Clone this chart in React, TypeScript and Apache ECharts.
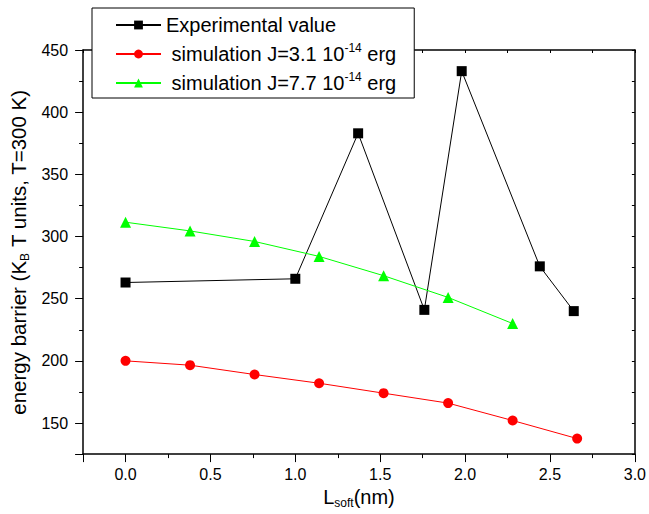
import React, { useEffect, useRef } from "react";
import * as echarts from "echarts";

const expX = [0, 1.0, 1.37, 1.76, 1.98, 2.44, 2.64];
const expY = [263, 266, 383, 241, 433, 276, 240];
const sim31X = [0, 0.38, 0.76, 1.14, 1.52, 1.9, 2.28, 2.66];
const sim31Y = [200, 196.5, 189, 182, 174, 166, 152, 137.5];
const sim77X = [0, 0.38, 0.76, 1.14, 1.52, 1.9, 2.28];
const sim77Y = [311.5, 304.5, 296, 284, 268.5, 251, 230];

const xMin = -0.25;
const xMax = 3.0;
const yMin = 125;
const yMax = 450;

const seriesNames = [
  "Experimental value",
  "simulation J=3.1 10-14 erg",
  "simulation J=7.7 10-14 erg",
];

const FONT = "'Liberation Sans', Arial, sans-serif";

function pairs(xs: number[], ys: number[]) {
  return xs.map((x, i) => [x, ys[i]]);
}

export default function App() {
  const ref = useRef<HTMLDivElement>(null);
  useEffect(() => {
    if (!ref.current) return;
    const chart = echarts.init(ref.current, undefined, { renderer: "svg" });
    const axisLine = { show: true, onZero: false, lineStyle: { color: "#000", width: 1.5 } };
    const tickStyle = { color: "#000", width: 1 };
    const option: any = {
      animation: false,
      backgroundColor: "#fff",
      textStyle: { fontFamily: FONT },
      grid: { left: 82, right: 12, top: 50, bottom: 55, containLabel: false },
      legend: {
        orient: "vertical",
        left: 92,
        top: 8,
        padding: [5, 18, 3, 23],
        itemWidth: 45,
        itemHeight: 11,
        itemGap: 5,
        backgroundColor: "#fff",
        borderColor: "#000",
        borderWidth: 1,
        borderRadius: 0,
        data: seriesNames,
        formatter: (name: string) => {
          if (name === seriesNames[0]) return "{a|" + name + "}";
          const parts = name.split("10-14");
          return "{a| " + parts[0] + "10}{sup|-14}{a|" + parts[1] + "}";
        },
        textStyle: {
          fontFamily: FONT,
          color: "#000",
          fontSize: 20,
          lineHeight: 24,
          rich: {
            a: { fontFamily: FONT, fontSize: 20, lineHeight: 24, color: "#000" },
            sup: { fontFamily: FONT, fontSize: 12, lineHeight: 12, verticalAlign: "top", color: "#000" },
          },
        },
      },
      xAxis: [
        {
          type: "value",
          position: "bottom",
          min: xMin,
          max: xMax,
          minInterval: 0.5,
          maxInterval: 0.5,
          axisLine,
          splitLine: { show: false },
          axisTick: { show: true, inside: false, length: 8, lineStyle: tickStyle },
          minorTick: { show: true, splitNumber: 2, length: 4, lineStyle: tickStyle },
          axisLabel: {
            show: true,
            showMinLabel: false,
            margin: 12,
            color: "#000",
            fontSize: 16,
            fontFamily: FONT,
            formatter: (v: number) => v.toFixed(1),
          },
          name: "{a|L}{sub|soft}{a|(nm)}",
          nameLocation: "middle",
          nameGap: 28,
          nameTextStyle: {
            fontFamily: FONT,
            color: "#000",
            rich: {
              a: { fontFamily: FONT, fontSize: 20, lineHeight: 24, color: "#000" },
              sub: { fontFamily: FONT, fontSize: 12, lineHeight: 12, verticalAlign: "bottom", color: "#000" },
            },
          },
        },
        {
          type: "value",
          position: "top",
          min: xMin,
          max: xMax,
          minInterval: 0.5,
          maxInterval: 0.5,
          axisLine,
          splitLine: { show: false },
          axisTick: { show: true, inside: true, length: 3, lineStyle: tickStyle },
          minorTick: { show: true, splitNumber: 2, length: 3, lineStyle: tickStyle },
          axisLabel: { show: false },
        },
      ],
      yAxis: [
        {
          type: "value",
          position: "left",
          min: yMin,
          max: yMax,
          minInterval: 50,
          maxInterval: 50,
          axisLine,
          splitLine: { show: false },
          axisTick: { show: true, inside: false, length: 8, lineStyle: tickStyle },
          minorTick: { show: true, splitNumber: 2, length: 4, lineStyle: tickStyle },
          axisLabel: {
            show: true,
            showMinLabel: false,
            margin: 15,
            color: "#000",
            fontSize: 16,
            fontFamily: FONT,
          },
          name: "{a|energy barrier (K}{sub|B}{a| T units, T=300 K)}",
          nameLocation: "middle",
          nameRotate: 90,
          nameGap: 52,
          nameTextStyle: {
            fontFamily: FONT,
            color: "#000",
            rich: {
              a: { fontFamily: FONT, fontSize: 20.5, lineHeight: 24, color: "#000" },
              sub: { fontFamily: FONT, fontSize: 12, lineHeight: 12, verticalAlign: "bottom", color: "#000" },
            },
          },
        },
        {
          type: "value",
          position: "right",
          min: yMin,
          max: yMax,
          minInterval: 50,
          maxInterval: 50,
          axisLine,
          splitLine: { show: false },
          axisTick: { show: true, inside: true, length: 3, lineStyle: tickStyle },
          minorTick: { show: true, splitNumber: 2, length: 3, lineStyle: tickStyle },
          axisLabel: { show: false },
        },
      ],
      series: [
        {
          name: seriesNames[0],
          type: "line",
          xAxisIndex: 0,
          yAxisIndex: 0,
          data: pairs(expX, expY),
          symbol: "rect",
          symbolSize: 10,
          lineStyle: { color: "#000", width: 1 },
          itemStyle: { color: "#000" },
          z: 3,
        },
        {
          name: seriesNames[1],
          type: "line",
          xAxisIndex: 0,
          yAxisIndex: 0,
          data: pairs(sim31X, sim31Y),
          symbol: "circle",
          symbolSize: 10,
          lineStyle: { color: "#ff0000", width: 1 },
          itemStyle: { color: "#ff0000" },
        },
        {
          name: seriesNames[2],
          type: "line",
          xAxisIndex: 0,
          yAxisIndex: 0,
          data: pairs(sim77X, sim77Y),
          symbol: "triangle",
          symbolSize: 11,
          lineStyle: { color: "#00ff00", width: 1 },
          itemStyle: { color: "#00ff00" },
        },
      ],
    };
    chart.setOption(option);
    return () => chart.dispose();
  }, []);
  return (
    <div
      ref={ref}
      style={{ position: "absolute", left: 0, top: 0, width: 649, height: 514 }}
    />
  );
}
